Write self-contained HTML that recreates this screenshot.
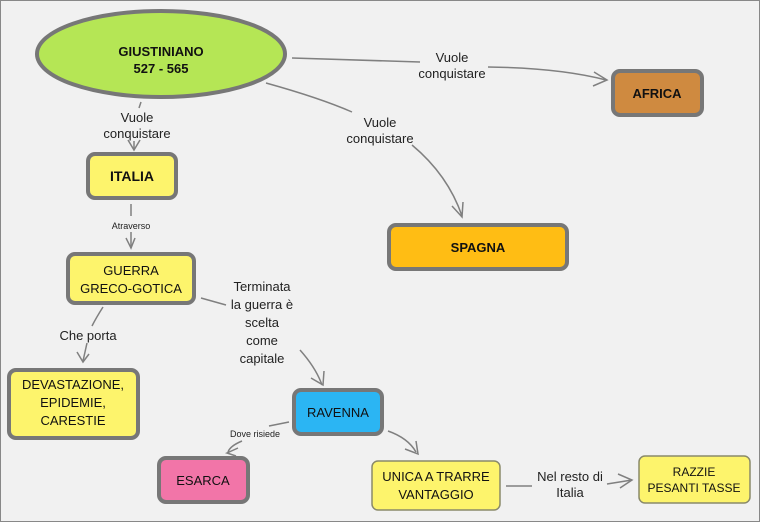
<!DOCTYPE html>
<html><head><meta charset="utf-8"><style>
html,body{margin:0;padding:0;background:#f1f1f1;}
svg{display:block;font-family:"Liberation Sans",sans-serif;}
</style></head><body>
<svg width="760" height="522" viewBox="0 0 760 522">
<rect x="0.5" y="0.5" width="759" height="521" fill="#f1f1f1" stroke="#888"/>
<g fill="none" stroke="#808080" stroke-width="1.5">
<path d="M292 58 L420 62"/>
<path d="M488 67 Q560 68 606 80"/>
<path d="M594 72 L607 80 L593 86"/>
<path d="M266 83 Q320 98 352 112"/>
<path d="M412 145 Q448 175 462 216"/>
<path d="M452 206 L462 217 L463 202"/>
<path d="M141 102 L139 108"/>
<path d="M134 141 L134 150"/>
<path d="M128 140 L134 150 L140 140"/>
<path d="M131 204 L131 216"/>
<path d="M131 232 L131 248"/>
<path d="M126 238 L131 248 L135 238"/>
<path d="M103 307 Q96 318 92 326"/>
<path d="M87 343 L83 361"/>
<path d="M77 352 L83 362 L89 354"/>
<path d="M201 298 L226 305"/>
<path d="M300 350 Q316 368 322 385"/>
<path d="M311 378 L323 385 L324 371"/>
<path d="M289 422 L269 426"/>
<path d="M242 441 Q230 446 228 452"/>
<path d="M238 448 L227 453 L236 456"/>
<path d="M388 431 Q408 438 416 452"/>
<path d="M405 449 L418 454 L416 441"/>
<path d="M506 486 L532 486"/>
<path d="M607 484 L632 480"/>
<path d="M618 474 L632 480 L620 488"/>
</g>
<ellipse cx="161" cy="54" rx="124" ry="43" fill="#b5e655" stroke="#777" stroke-width="4"/>
<text x="161" y="56" text-anchor="middle" font-size="13" font-weight="bold" fill="#111">GIUSTINIANO</text>
<text x="161" y="73" text-anchor="middle" font-size="13" font-weight="bold" fill="#111">527 - 565</text>

<g stroke="#777" stroke-width="4">
<rect x="88" y="154" width="88" height="44" rx="7" fill="#fdf46c"/>
<rect x="68" y="254" width="126" height="49" rx="7" fill="#fdf46c"/>
<rect x="9" y="370" width="129" height="68" rx="7" fill="#fdf46c"/>
<rect x="294" y="390" width="88" height="44" rx="7" fill="#2bb5f3"/>
<rect x="159" y="458" width="89" height="44" rx="7" fill="#f275a8"/>
<rect x="613" y="71" width="89" height="44" rx="7" fill="#cf8a40"/>
<rect x="389" y="225" width="178" height="44" rx="7" fill="#ffbd14"/>
</g>
<g stroke="#8a8a6a" stroke-width="1.5" fill="#fdf46c">
<rect x="372" y="461" width="128" height="49" rx="6"/>
<rect x="639" y="456" width="111" height="47" rx="6"/>
</g>
<g text-anchor="middle" fill="#111" font-size="13">
<text x="132" y="181" font-weight="bold" font-size="14">ITALIA</text>
<text x="131" y="275">GUERRA</text>
<text x="131" y="293">GRECO-GOTICA</text>
<text x="73" y="389">DEVASTAZIONE,</text>
<text x="73" y="407">EPIDEMIE,</text>
<text x="73" y="425">CARESTIE</text>
<text x="338" y="417">RAVENNA</text>
<text x="203" y="485">ESARCA</text>
<text x="436" y="481">UNICA A TRARRE</text>
<text x="436" y="499">VANTAGGIO</text>
<text x="694" y="476" font-size="12">RAZZIE</text>
<text x="694" y="492" font-size="12">PESANTI TASSE</text>
<text x="657" y="98" font-weight="bold">AFRICA</text>
<text x="478" y="252" font-weight="bold">SPAGNA</text>
</g>
<g text-anchor="middle" fill="#222" font-size="13">
<text x="137" y="122">Vuole</text>
<text x="137" y="138">conquistare</text>
<text x="452" y="62">Vuole</text>
<text x="452" y="78">conquistare</text>
<text x="380" y="127">Vuole</text>
<text x="380" y="143">conquistare</text>
<text x="131" y="229" font-size="9">Atraverso</text>
<text x="88" y="340">Che porta</text>
<text x="262" y="291">Terminata</text>
<text x="262" y="309">la guerra è</text>
<text x="262" y="327">scelta</text>
<text x="262" y="345">come</text>
<text x="262" y="363">capitale</text>
<text x="255" y="437" font-size="9">Dove risiede</text>
<text x="570" y="481">Nel resto di</text>
<text x="570" y="497">Italia</text>
</g>
</svg>
</body></html>
